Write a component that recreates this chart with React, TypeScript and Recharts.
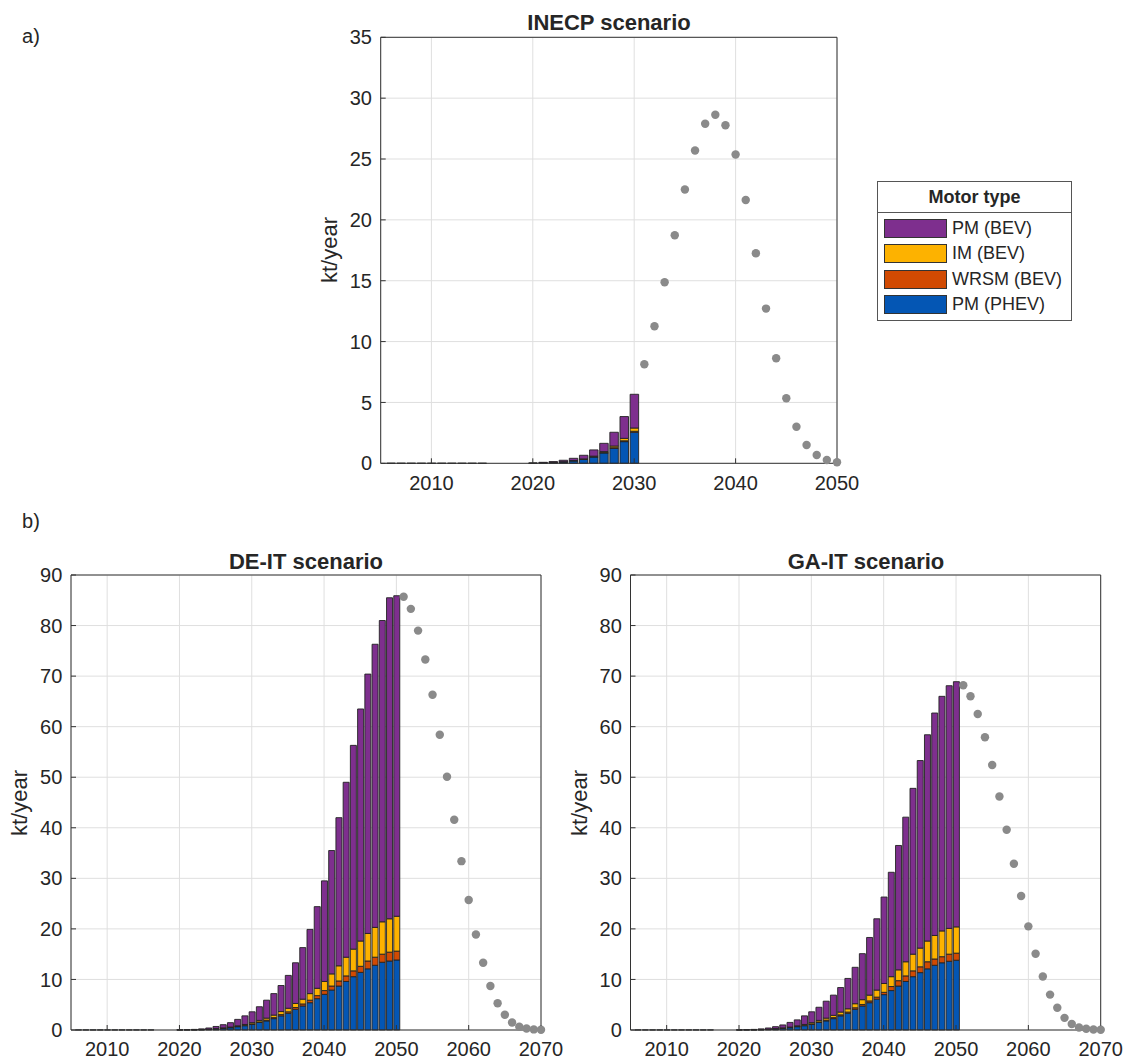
import React from 'react';
import { ComposedChart, Bar, Scatter, XAxis, YAxis, ZAxis, CartesianGrid, Legend } from 'recharts';

const FONT = '"Liberation Sans", Arial, Helvetica, sans-serif';
const INK = '#262626';
const EDGE = '#222222';
const GRID = '#dfdfdf';
const DOT = '#8a8a8a';

// stacking order, bottom of the bar first
const motorKeys = ['phev', 'wrsm', 'im', 'pmBev'];
const motorNames = ['PM (PHEV)', 'WRSM (BEV)', 'IM (BEV)', 'PM (BEV)'];
const motorColors = ['#0456b4', '#d14a02', '#fdb200', '#7e2f8e'];

// a) INECP scenario (kt/year)
const inecpYears = [
  2006, 2007, 2008, 2009, 2010, 2011, 2012, 2013, 2014, 2015, 2016, 2017, 2018,
  2019, 2020, 2021, 2022, 2023, 2024, 2025, 2026, 2027, 2028, 2029, 2030,
];
const inecpPhev = [
  0.01, 0.01, 0.01, 0.01, 0.01, 0.01, 0.01, 0.01, 0.01, 0.01, 0, 0, 0, 0,
  0.01, 0.03, 0.06, 0.11, 0.2, 0.32, 0.52, 0.85, 1.23, 1.78, 2.55,
];
const inecpWrsm = [
  0, 0, 0, 0, 0, 0, 0, 0, 0, 0, 0, 0, 0, 0,
  0, 0, 0, 0.01, 0.01, 0.01, 0.02, 0.03, 0.05, 0.07, 0.08,
];
const inecpIm = [
  0, 0, 0, 0, 0, 0, 0, 0, 0, 0, 0, 0, 0, 0,
  0, 0, 0.01, 0.01, 0.02, 0.03, 0.05, 0.08, 0.14, 0.2, 0.27,
];
const inecpPmBev = [
  0, 0, 0, 0, 0, 0, 0, 0, 0, 0, 0, 0, 0, 0,
  0.01, 0.05, 0.07, 0.12, 0.18, 0.3, 0.51, 0.68, 1.13, 1.79, 2.77,
];
const inecpTailYears = [
  2031, 2032, 2033, 2034, 2035, 2036, 2037, 2038, 2039, 2040,
  2041, 2042, 2043, 2044, 2045, 2046, 2047, 2048, 2049, 2050,
];
const inecpTail = [
  8.14, 11.26, 14.88, 18.74, 22.49, 25.7, 27.89, 28.63, 27.78, 25.37,
  21.64, 17.26, 12.71, 8.63, 5.34, 3.01, 1.51, 0.68, 0.27, 0.08,
];

// b) DE-IT and GA-IT scenarios (kt/year)
const longYears = [
  2006, 2007, 2008, 2009, 2010, 2011, 2012, 2013, 2014, 2015, 2016, 2017, 2018,
  2019, 2020, 2021, 2022, 2023, 2024, 2025, 2026, 2027, 2028, 2029, 2030, 2031,
  2032, 2033, 2034, 2035, 2036, 2037, 2038, 2039, 2040, 2041, 2042, 2043, 2044,
  2045, 2046, 2047, 2048, 2049, 2050,
];
const deitPhev = [
  0.02, 0.02, 0.02, 0.02, 0.02, 0.02, 0.02, 0.02, 0.02, 0.02, 0.02, 0, 0, 0,
  0.01, 0.02, 0.04, 0.07, 0.12, 0.22, 0.33, 0.45, 0.65, 0.85,
  1.1, 1.5, 1.8, 2.25, 2.8, 3.3, 4.1, 4.75, 5.4, 6.2,
  7.05, 7.9, 8.7, 9.6, 10.55, 11.4, 12.1, 12.8, 13.4, 13.65, 13.85,
];
const deitWrsm = [
  0, 0, 0, 0, 0, 0, 0, 0, 0, 0, 0, 0, 0, 0,
  0, 0, 0, 0.01, 0.01, 0.02, 0.03, 0.04, 0.05, 0.07,
  0.1, 0.1, 0.15, 0.2, 0.25, 0.3, 0.35, 0.4, 0.5, 0.6,
  0.75, 0.8, 1.0, 1.1, 1.15, 1.2, 1.55, 1.6, 1.6, 1.75, 1.75,
];
const deitIm = [
  0, 0, 0, 0, 0, 0, 0, 0, 0, 0, 0, 0, 0, 0,
  0, 0, 0.01, 0.01, 0.03, 0.04, 0.06, 0.09, 0.13, 0.18,
  0.25, 0.3, 0.4, 0.5, 0.6, 0.7, 0.8, 0.95, 1.3, 1.45,
  1.8, 2.4, 3.0, 3.7, 4.3, 5.0, 5.45, 5.9, 6.4, 6.6, 6.9,
];
const deitPmBev = [
  0, 0, 0, 0, 0, 0, 0, 0, 0, 0, 0, 0, 0, 0,
  0.02, 0.04, 0.07, 0.13, 0.24, 0.42, 0.63, 0.87, 1.27, 1.7,
  2.15, 2.7, 3.55, 4.25, 5.15, 6.5, 8.05, 10.2, 12.7, 16.15,
  19.9, 24.4, 29.3, 34.6, 40.3, 45.9, 51.3, 56.0, 59.6, 63.5, 63.4,
];
const gaitPhev = [
  0.02, 0.02, 0.02, 0.02, 0.02, 0.02, 0.02, 0.02, 0.02, 0.02, 0.02, 0, 0, 0,
  0.01, 0.02, 0.04, 0.07, 0.12, 0.22, 0.33, 0.45, 0.65, 0.85,
  1.1, 1.5, 1.8, 2.25, 2.8, 3.3, 4.1, 4.75, 5.4, 6.1,
  7.0, 7.8, 8.7, 9.6, 10.55, 11.35, 12.1, 12.8, 13.3, 13.6, 13.8,
];
const gaitWrsm = [
  0, 0, 0, 0, 0, 0, 0, 0, 0, 0, 0, 0, 0, 0,
  0, 0, 0, 0.01, 0.01, 0.02, 0.03, 0.04, 0.05, 0.07,
  0.1, 0.1, 0.15, 0.2, 0.2, 0.25, 0.3, 0.3, 0.35, 0.4,
  0.45, 0.8, 1.06, 1.1, 1.15, 1.15, 1.4, 1.25, 1.2, 1.4, 1.4,
];
const gaitIm = [
  0, 0, 0, 0, 0, 0, 0, 0, 0, 0, 0, 0, 0, 0,
  0, 0, 0.01, 0.01, 0.03, 0.04, 0.06, 0.09, 0.13, 0.18,
  0.25, 0.3, 0.4, 0.45, 0.55, 0.65, 0.8, 0.95, 1.15, 1.4,
  1.75, 1.95, 2.14, 2.8, 3.3, 3.7, 4.1, 4.65, 5.1, 5.1, 5.2,
];
const gaitPmBev = [
  0, 0, 0, 0, 0, 0, 0, 0, 0, 0, 0, 0, 0, 0,
  0.02, 0.04, 0.07, 0.13, 0.24, 0.38, 0.58, 0.92, 1.17, 1.7,
  2.15, 2.6, 3.35, 4.0, 4.85, 6.0, 7.2, 9.1, 11.4, 14.1,
  17.1, 20.65, 24.6, 28.6, 32.8, 37.1, 40.8, 44.0, 46.4, 48.0, 48.5,
];
const longTailYears = [
  2051, 2052, 2053, 2054, 2055, 2056, 2057, 2058, 2059, 2060,
  2061, 2062, 2063, 2064, 2065, 2066, 2067, 2068, 2069, 2070,
];
const deitTail = [
  85.7, 83.3, 79.0, 73.3, 66.3, 58.4, 50.1, 41.6, 33.4, 25.7,
  18.9, 13.3, 8.7, 5.3, 3.0, 1.5, 0.66, 0.3, 0.12, 0.05,
];
const gaitTail = [
  68.2, 66.0, 62.5, 57.9, 52.4, 46.2, 39.6, 32.9, 26.5, 20.5,
  15.1, 10.6, 7.0, 4.4, 2.4, 1.2, 0.5, 0.25, 0.1, 0.05,
];

const topXTicks = [2010, 2020, 2030, 2040, 2050];
const topYTicks = [0, 5, 10, 15, 20, 25, 30, 35];
const longXTicks = [2010, 2020, 2030, 2040, 2050, 2060, 2070];
const longYTicks = [0, 10, 20, 30, 40, 50, 60, 70, 80, 90];

function MotorLegend({ payload }: any) {
  const shown: string[] = (payload || []).map((p: any) => p.value);
  // top of the stack is listed first
  const names = motorNames.filter((n) => shown.includes(n)).reverse();
  return (
    <div
      style={{
        width: 195,
        height: 140,
        boxSizing: 'border-box',
        border: '1px solid #555',
        background: '#fff',
        fontFamily: FONT,
        color: INK,
      }}
    >
      <div
        style={{
          height: 31,
          boxSizing: 'border-box',
          borderBottom: '1px solid #555',
          fontWeight: 'bold',
          fontSize: 18,
          textAlign: 'center',
          lineHeight: '30px',
        }}
      >
        Motor type
      </div>
      <div style={{ paddingTop: 3 }}>
        {names.map((name) => (
          <div key={name} style={{ height: 25.5, display: 'flex', alignItems: 'center' }}>
            <span
              style={{
                marginLeft: 6,
                width: 63,
                height: 19,
                boxSizing: 'border-box',
                border: '1px solid #333',
                background: motorColors[motorNames.indexOf(name)],
              }}
            />
            <span style={{ marginLeft: 5, fontSize: 18 }}>{name}</span>
          </div>
        ))}
      </div>
    </div>
  );
}

function Panel(props: any) {
  const { years, stacks, tailYears, tail, xMax, xTicks, yMax, yTicks, barSize, box, margin, legendAt } = props;
  const rows = years.map((year: number, i: number) => {
    const row: Record<string, number> = { year };
    motorKeys.forEach((k, s) => {
      row[k] = stacks[s][i];
    });
    return row;
  });
  const dots = tailYears.map((year: number, i: number) => ({ year, value: tail[i] }));
  const tickStyle = { fill: INK, fontSize: 20, fontFamily: FONT };

  return (
    <div style={{ position: 'absolute', left: box.left, top: box.top }}>
      <ComposedChart width={box.width} height={box.height} data={rows} margin={margin}>
        <CartesianGrid xAxisId="x" yAxisId="y" stroke={GRID} />
        <XAxis
          xAxisId="x"
          dataKey="year"
          type="number"
          domain={[2005, xMax]}
          ticks={xTicks}
          interval={0}
          tick={tickStyle}
          tickSize={-5}
          tickMargin={17}
          height={30}
          stroke="#333"
        />
        <XAxis
          xAxisId="top"
          orientation="top"
          dataKey="year"
          type="number"
          domain={[2005, xMax]}
          ticks={xTicks}
          interval={0}
          tick={false}
          tickSize={-5}
          height={1}
          stroke="#333"
        />
        <YAxis
          yAxisId="y"
          type="number"
          domain={[0, yMax]}
          ticks={yTicks}
          interval={0}
          tick={tickStyle}
          tickSize={-5}
          tickMargin={13.7}
          width={50}
          stroke="#333"
        />
        <YAxis
          yAxisId="r"
          orientation="right"
          type="number"
          domain={[0, yMax]}
          ticks={yTicks}
          interval={0}
          tick={false}
          tickSize={-5}
          width={1}
          stroke="#333"
        />
        <ZAxis range={[56, 56]} />
        {motorKeys.map((k, s) => (
          <Bar
            key={k}
            xAxisId="x"
            yAxisId="y"
            dataKey={k}
            name={motorNames[s]}
            stackId="motor"
            fill={motorColors[s]}
            stroke={EDGE}
            strokeWidth={0.9}
            barSize={barSize}
            isAnimationActive={false}
          />
        ))}
        <Scatter
          xAxisId="x"
          yAxisId="y"
          data={dots}
          dataKey="value"
          fill={DOT}
          legendType="none"
          isAnimationActive={false}
        />
        {legendAt && (
          <Legend
            layout="vertical"
            align="center"
            verticalAlign="middle"
            wrapperStyle={{ left: legendAt.left, top: legendAt.top, width: 195 }}
            content={(p: any) => <MotorLegend payload={p.payload} />}
          />
        )}
      </ComposedChart>
    </div>
  );
}

function Tag({ x, y, children, rotate, style }: any) {
  return (
    <div
      style={{
        position: 'absolute',
        left: x,
        top: y,
        transform: `translate(-50%, -50%)${rotate ? ' rotate(-90deg)' : ''}`,
        whiteSpace: 'nowrap',
        lineHeight: 1,
        ...style,
      }}
    >
      {children}
    </div>
  );
}

export default function App() {
  const title = { fontWeight: 'bold', fontSize: 22 };
  return (
    <div
      style={{
        position: 'absolute',
        left: 0,
        top: 0,
        width: 1128,
        height: 1062,
        background: '#fff',
        fontFamily: FONT,
        color: INK,
        overflow: 'hidden',
      }}
    >
      <Panel
        years={inecpYears}
        stacks={[inecpPhev, inecpWrsm, inecpIm, inecpPmBev]}
        tailYears={inecpTailYears}
        tail={inecpTail}
        xMax={2050}
        xTicks={topXTicks}
        yMax={35}
        yTicks={topYTicks}
        barSize={8.5}
        box={{ left: 300, top: 0, width: 780, height: 510 }}
        margin={{ top: 36.3, right: 242, bottom: 16.7, left: 30.7 }}
        legendAt={{ left: 577, top: 180.7 }}
      />
      <Panel
        years={longYears}
        stacks={[deitPhev, deitWrsm, deitIm, deitPmBev]}
        tailYears={longTailYears}
        tail={deitTail}
        xMax={2070}
        xTicks={longXTicks}
        yMax={90}
        yTicks={longYTicks}
        barSize={6}
        box={{ left: 0, top: 545, width: 600, height: 517 }}
        margin={{ top: 29, right: 58, bottom: 2, left: 21 }}
      />
      <Panel
        years={longYears}
        stacks={[gaitPhev, gaitWrsm, gaitIm, gaitPmBev]}
        tailYears={longTailYears}
        tail={gaitTail}
        xMax={2070}
        xTicks={longXTicks}
        yMax={90}
        yTicks={longYTicks}
        barSize={6}
        box={{ left: 565, top: 545, width: 563, height: 517 }}
        margin={{ top: 29, right: 26.3, bottom: 2, left: 15.5 }}
      />

      <Tag x={31} y={36} style={{ fontSize: 20 }}>a)</Tag>
      <Tag x={31} y={521} style={{ fontSize: 20 }}>b)</Tag>

      <Tag x={609} y={23} style={title}>INECP scenario</Tag>
      <Tag x={306} y={562} style={title}>DE-IT scenario</Tag>
      <Tag x={866} y={562} style={title}>GA-IT scenario</Tag>

      <Tag x={330} y={250} rotate style={{ fontSize: 22 }}>kt/year</Tag>
      <Tag x={20} y={803} rotate style={{ fontSize: 22 }}>kt/year</Tag>
      <Tag x={580} y={803} rotate style={{ fontSize: 22 }}>kt/year</Tag>
    </div>
  );
}
